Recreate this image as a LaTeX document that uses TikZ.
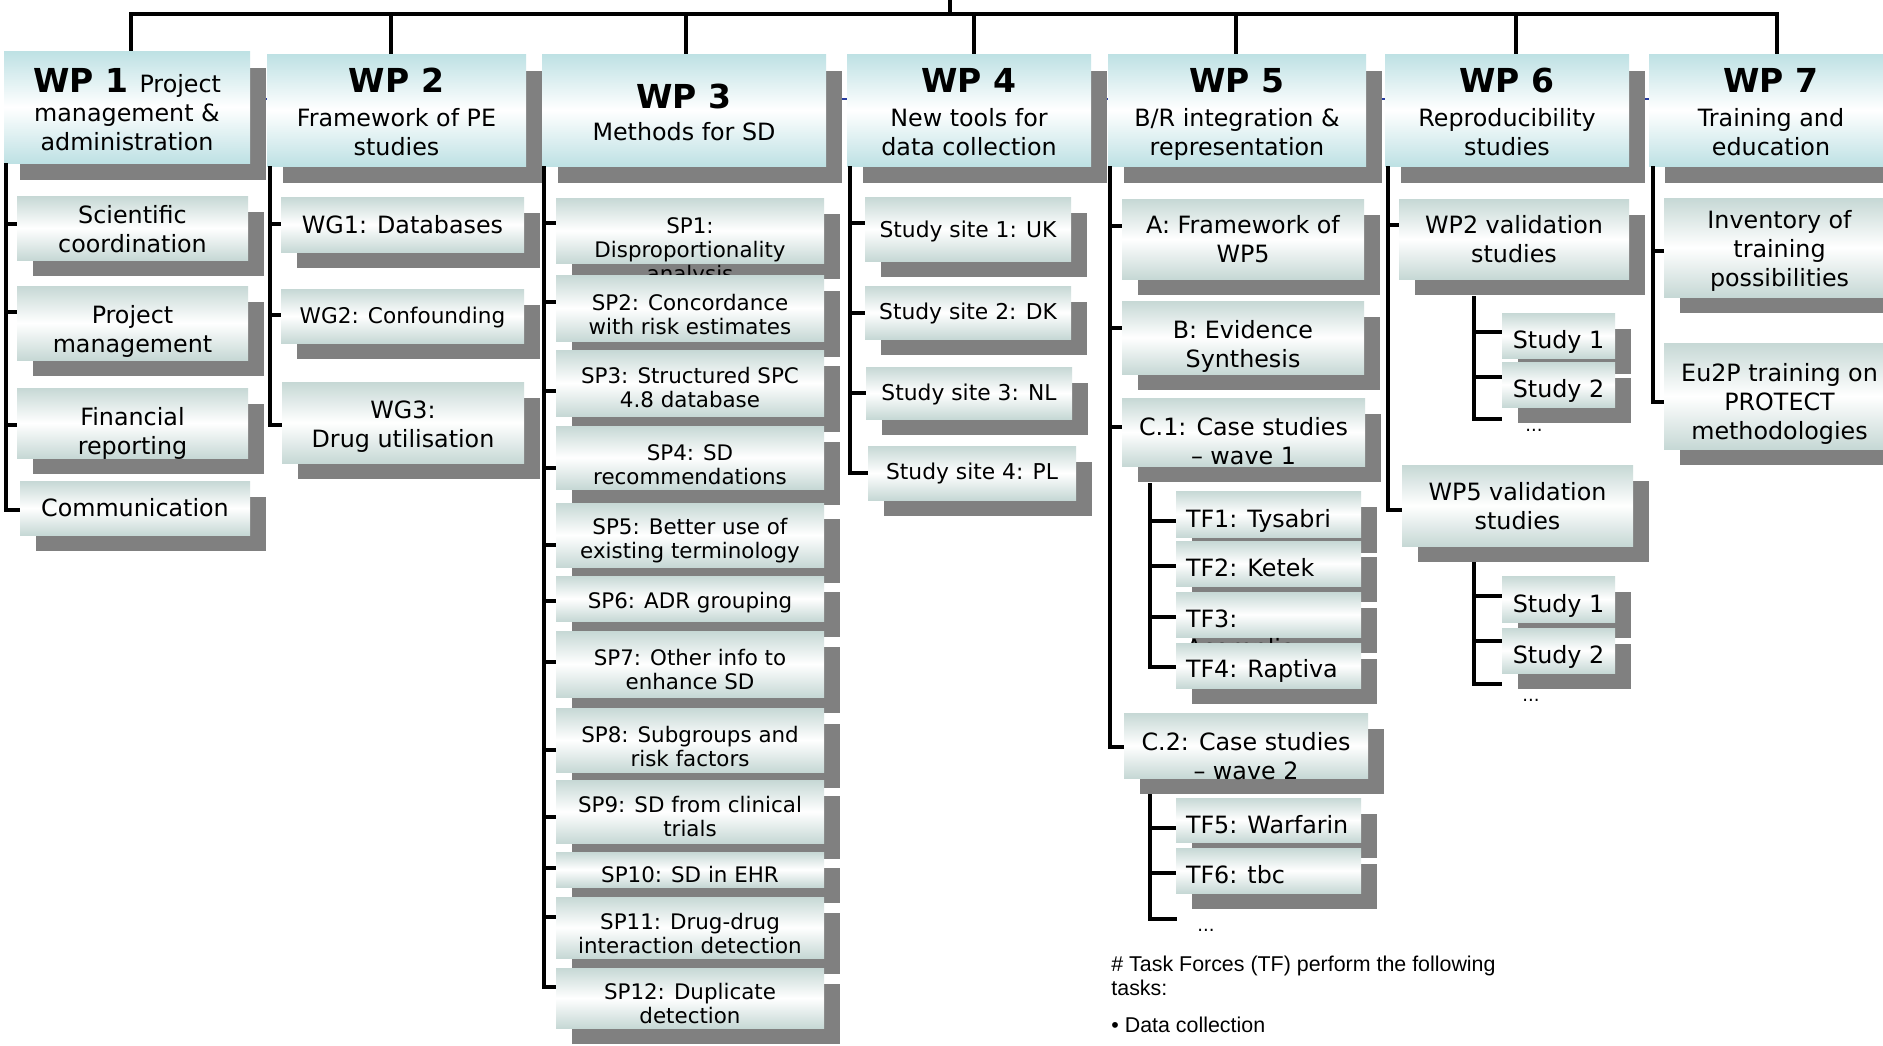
\documentclass[tikz,border=0pt]{standalone}
\usepackage{fontspec}
\setmainfont{DejaVu Sans}
\newfontfamily\notefamily{Liberation Sans}
\usetikzlibrary{shadows}
\definecolor{hdrc}{RGB}{190,225,228}
\definecolor{subc}{RGB}{198,216,213}
\definecolor{shc}{RGB}{128,128,128}
\definecolor{artc}{RGB}{40,60,160}
\newcommand\wpf{\fontsize{16.5}{19}\selectfont\bfseries}
\newcommand\bodyf{\fontsize{11.9}{14.5}\selectfont}
\newcommand\spf{\fontsize{10.7}{12}\selectfont}
\newcommand\sitef{\fontsize{10.9}{12.5}\selectfont}
\newcommand\wgf{\fontsize{10.8}{13}\selectfont}
\newcommand\dotsf{\fontsize{9}{10}\selectfont}
\newcommand\notef{\notefamily\fontsize{10.7}{12}\selectfont}
\newcommand\boxtxt[3][c]{\raisebox{#2}[0pt][0pt]{\begin{tabular}[t]{@{}#1@{}}#3\end{tabular}}}
\newcommand\tftxt[2]{\makebox[82.5pt][l]{\boxtxt[l]{#1}{#2}}}
\begin{document}
\begin{tikzpicture}[x=0.5pt,y=-0.5pt,
  hdr/.style={inner sep=0pt, top color=hdrc, bottom color=hdrc, middle color=white,
    general shadow={fill=shc, shadow xshift=8pt, shadow yshift=-8.5pt}, font=\bodyf},
  sub/.style={inner sep=0pt, top color=subc, bottom color=subc, middle color=white,
    general shadow={fill=shc, shadow xshift=8pt, shadow yshift=-8pt}, font=\bodyf},
  spbox/.style={sub, font=\spf},
  sitebox/.style={sub, font=\sitef},
  bx/.style n args={4}{minimum width={(#3-#1)*0.5pt}, minimum height={(#4-#2)*0.5pt},
    at={(0.5*#1+0.5*#3,0.5*#2+0.5*#4)}},
  conn/.style={line width=1.6pt, black},
  bar/.style={line width=1.8pt, black},
  dotnode/.style={font=\dotsf, anchor=base, inner sep=0pt}]
\path[use as bounding box] (0,0) rectangle (1883,1045);
\clip (0,0) rectangle (1883,1045);
\fill[white] (0,0) rectangle (1883,1045);
% faint blue line behind the headers
\coordinate (art1) at (250,99);
\coordinate (art2) at (1660,99);
\draw[artc, line width=0.8pt] (art1) -- (art2);

% ---------- headers ----------
\node[hdr, bx={4}{51}{250}{163}] (wp1) {\boxtxt{7.5pt}{{\wpf WP 1 }Project\\management \&\\administration}};
\node[hdr, bx={267}{54}{526}{166}] (wp2) {\boxtxt{9pt}{{\wpf WP 2}\\[2.5pt]Framework of PE\\studies}};
\node[hdr, bx={542}{54}{826}{166}] (wp3) {\boxtxt{0.6pt}{{\wpf WP 3}\\[1.5pt]Methods for SD}};
\node[hdr, bx={847}{54}{1091}{166}] (wp4) {\boxtxt{9pt}{{\wpf WP 4}\\[2.5pt]New tools for\\data collection}};
\node[hdr, bx={1108}{54}{1366}{166}] (wp5) {\boxtxt{9pt}{{\wpf WP 5}\\[2.5pt]B/R integration \&\\representation}};
\node[hdr, bx={1385}{54}{1629}{166}] (wp6) {\boxtxt{9pt}{{\wpf WP 6}\\[2.5pt]Reproducibility\\studies}};
\node[hdr, bx={1649}{54}{1893}{166}] (wp7) {\boxtxt{9pt}{{\wpf WP 7}\\[2.5pt]Training and\\education}};

% ---------- WP1 ----------
\node[sub, bx={17}{196}{248}{260}] (sci) {\boxtxt{2.5pt}{Scientific\\coordination}};
\node[sub, bx={17}{286}{248}{360}] (pm) {\boxtxt{0pt}{Project\\management}};
\node[sub, bx={17}{388}{248}{458}] (fin) {\boxtxt{-1pt}{Financial\\reporting}};
\node[sub, bx={20}{481}{250}{535}] (comm) {\boxtxt{-4pt}{Communication}};

% ---------- WP2 ----------
\node[sub, bx={281}{197}{524}{252}] (wg1) {\boxtxt{-4.25pt}{WG1: Databases}};
\node[sub, font=\wgf, bx={281}{289}{524}{343}] (wg2) {\boxtxt{-3.5pt}{WG2: Confounding}};
\node[sub, bx={282}{382}{524}{463}] (wg3) {\boxtxt{2.25pt}{WG3:\\Drug utilisation}};

% ---------- WP3 ----------
\node[spbox, bx={556}{198}{824}{263}] (sp1) {\boxtxt{-1.25pt}{SP1:\\Disproportionality\\analysis}};
\node[spbox, bx={556}{275}{824}{341}] (sp2) {\boxtxt{-1pt}{SP2: Concordance\\with risk estimates}};
\node[spbox, bx={556}{350}{824}{416}] (sp3) {\boxtxt{0pt}{SP3: Structured SPC\\4.8 database}};
\node[spbox, bx={556}{426}{824}{489}] (sp4) {\boxtxt{-1.25pt}{SP4: SD\\recommendations}};
\node[spbox, bx={556}{503}{824}{567}] (sp5) {\boxtxt{0.5pt}{SP5: Better use of\\existing terminology}};
\node[spbox, bx={556}{576}{824}{621}] (sp6) {\boxtxt{-4.75pt}{SP6: ADR grouping}};
\node[spbox, bx={556}{631}{824}{697}] (sp7) {\boxtxt{-0.5pt}{SP7: Other info to\\enhance SD}};
\node[spbox, bx={556}{708}{824}{772}] (sp8) {\boxtxt{-1pt}{SP8: Subgroups and\\risk factors}};
\node[spbox, bx={556}{780}{824}{843}] (sp9) {\boxtxt{-0.25pt}{SP9: SD from clinical\\trials}};
\node[spbox, bx={556}{852}{824}{887}] (sp10) {\boxtxt{-6.25pt}{SP10: SD in EHR}};
\node[spbox, bx={556}{897}{824}{958}] (sp11) {\boxtxt{-0.75pt}{SP11: Drug-drug\\interaction detection}};
\node[spbox, bx={556}{968}{824}{1028}] (sp12) {\boxtxt{-0.5pt}{SP12: Duplicate\\detection}};

% ---------- WP4 ----------
\node[sitebox, bx={865}{197}{1071}{261}] (s1) {\boxtxt{-4pt}{Study site 1: UK}};
\node[sitebox, bx={865}{286}{1071}{339}] (s2) {\boxtxt{-3.25pt}{Study site 2: DK}};
\node[sitebox, bx={866}{367}{1072}{419}] (s3) {\boxtxt{-3.5pt}{Study site 3: NL}};
\node[sitebox, bx={868}{446}{1076}{500}] (s4) {\boxtxt{-3pt}{Study site 4: PL}};

% ---------- WP5 ----------
\node[sub, bx={1122}{199}{1364}{279}] (a) {\boxtxt{3pt}{A: Framework of\\WP5}};
\node[sub, bx={1122}{301}{1364}{374}] (b) {\boxtxt{-0.25pt}{B: Evidence\\Synthesis}};
\node[sub, bx={1122}{398}{1365}{466}] (c1) {\boxtxt{-1.5pt}{C.1: Case studies\\– wave 1}};
\node[sub, bx={1176}{491}{1361}{537}] (tf1) {\tftxt{-6.5pt}{TF1: Tysabri}};
\node[sub, bx={1176}{541}{1361}{586}] (tf2) {\tftxt{-6.5pt}{TF2: Ketek}};
\node[sub, bx={1176}{592}{1361}{637}] (tf3) {\tftxt{-6.25pt}{TF3:\\Acomplia}};
\node[sub, bx={1176}{643}{1361}{688}] (tf4) {\tftxt{-6pt}{TF4: Raptiva}};
\node[sub, bx={1124}{713}{1368}{778}] (c2) {\boxtxt{-2.25pt}{C.2: Case studies\\– wave 2}};
\node[sub, bx={1176}{798}{1361}{842}] (tf5) {\tftxt{-6.5pt}{TF5: Warfarin}};
\node[sub, bx={1176}{848}{1361}{893}] (tf6) {\tftxt{-6.5pt}{TF6: tbc}};

% ---------- WP6 ----------
\node[sub, bx={1399}{199}{1629}{279}] (v2) {\boxtxt{3pt}{WP2 validation\\studies}};
\node[sub, bx={1502}{313}{1615}{358}] (st1) {\boxtxt{-6.25pt}{Study 1}};
\node[sub, bx={1502}{362}{1615}{407}] (st2) {\boxtxt{-6.25pt}{Study 2}};
\node[sub, bx={1402}{465}{1633}{546}] (v5) {\boxtxt{2.75pt}{WP5 validation\\studies}};
\node[sub, bx={1502}{576}{1615}{622}] (st3) {\boxtxt{-6.5pt}{Study 1}};
\node[sub, bx={1502}{628}{1615}{673}] (st4) {\boxtxt{-6.25pt}{Study 2}};

% ---------- WP7 ----------
\node[sub, bx={1664}{198}{1895}{297}] (inv) {\boxtxt{9.75pt}{Inventory of\\training\\possibilities}};
\node[sub, bx={1664}{343}{1895}{449}] (eu) {\boxtxt{7.5pt}{Eu2P training on\\PROTECT\\methodologies}};

% ---------- ellipses and note ----------
\node[dotnode] (dots5) at (1206,931) {...};
\node[dotnode] (dots6a) at (1534,431) {...};
\node[dotnode] (dots6b) at (1531,701) {...};
\node[anchor=west, inner sep=0pt, font=\notef] (note) at (1111,971)
  {\boxtxt[l]{0pt}{\# Task Forces (TF) perform the following\\tasks:\\[6.5pt]• Data collection}};

% ---------- top bar ----------
\coordinate (root) at (950,0);
\coordinate (d1) at (131,14);
\coordinate (d2) at (391,14);
\coordinate (d3) at (686,14);
\coordinate (d4) at (974,14);
\coordinate (d5) at (1236,14);
\coordinate (d6) at (1516,14);
\coordinate (d7) at (1777,14);
\draw[bar] (d1 |- wp1.north) -- (d1) -- (d7) -- (d7 |- wp7.north);
\draw[conn] (root) -- (root |- d1);
\draw[conn] (d2) -- (d2 |- wp2.north);
\draw[conn] (d3) -- (d3 |- wp3.north);
\draw[conn] (d4) -- (d4 |- wp4.north);
\draw[conn] (d5) -- (d5 |- wp5.north);
\draw[conn] (d6) -- (d6 |- wp6.north);

% ---------- WP1 connectors ----------
\coordinate (k1a) at (6,224); \coordinate (k1b) at (6,312);
\coordinate (k1c) at (6,425); \coordinate (k1d) at (6,510);
\draw[conn] (wp1.south -| k1a) -- (k1d) -- (k1d -| comm.west);
\draw[conn] (k1a) -- (k1a -| sci.west);
\draw[conn] (k1b) -- (k1b -| pm.west);
\draw[conn] (k1c) -- (k1c -| fin.west);

% ---------- WP2 connectors ----------
\coordinate (k2a) at (270,224); \coordinate (k2b) at (270,315); \coordinate (k2c) at (270,425);
\draw[conn] (wp2.south -| k2a) -- (k2c) -- (k2c -| wg3.west);
\draw[conn] (k2a) -- (k2a -| wg1.west);
\draw[conn] (k2b) -- (k2b -| wg2.west);

% ---------- WP3 connectors ----------
\coordinate (k3a) at (544,223); \coordinate (k3b) at (544,302); \coordinate (k3c) at (544,391);
\coordinate (k3d) at (544,468); \coordinate (k3e) at (544,545); \coordinate (k3f) at (544,601);
\coordinate (k3g) at (544,662); \coordinate (k3h) at (544,750); \coordinate (k3i) at (544,817);
\coordinate (k3j) at (544,868); \coordinate (k3k) at (544,917); \coordinate (k3l) at (544,987);
\draw[conn] (wp3.south -| k3a) -- (k3l) -- (k3l -| sp12.west);
\draw[conn] (k3a) -- (k3a -| sp1.west);
\draw[conn] (k3b) -- (k3b -| sp2.west);
\draw[conn] (k3c) -- (k3c -| sp3.west);
\draw[conn] (k3d) -- (k3d -| sp4.west);
\draw[conn] (k3e) -- (k3e -| sp5.west);
\draw[conn] (k3f) -- (k3f -| sp6.west);
\draw[conn] (k3g) -- (k3g -| sp7.west);
\draw[conn] (k3h) -- (k3h -| sp8.west);
\draw[conn] (k3i) -- (k3i -| sp9.west);
\draw[conn] (k3j) -- (k3j -| sp10.west);
\draw[conn] (k3k) -- (k3k -| sp11.west);

% ---------- WP4 connectors ----------
\coordinate (k4a) at (850,223); \coordinate (k4b) at (850,313);
\coordinate (k4c) at (850,393); \coordinate (k4d) at (850,473);
\draw[conn] (wp4.south -| k4a) -- (k4d) -- (k4d -| s4.west);
\draw[conn] (k4a) -- (k4a -| s1.west);
\draw[conn] (k4b) -- (k4b -| s2.west);
\draw[conn] (k4c) -- (k4c -| s3.west);

% ---------- WP5 connectors ----------
\coordinate (k5a) at (1110,226); \coordinate (k5b) at (1110,328);
\coordinate (k5c) at (1110,427); \coordinate (k5d) at (1110,747);
\draw[conn] (wp5.south -| k5a) -- (k5d) -- (k5d -| c2.west);
\draw[conn] (k5a) -- (k5a -| a.west);
\draw[conn] (k5b) -- (k5b -| b.west);
\draw[conn] (k5c) -- (k5c -| c1.west);
\coordinate (c1sh) at ([yshift=-8.5pt]c1.south);
\coordinate (t1a) at (1150,521); \coordinate (t1b) at (1150,566);
\coordinate (t1c) at (1150,617); \coordinate (t1d) at (1150,667);
\draw[conn] (c1sh -| t1a) -- (t1d) -- (t1d -| tf4.west);
\draw[conn] (t1a) -- (t1a -| tf1.west);
\draw[conn] (t1b) -- (t1b -| tf2.west);
\draw[conn] (t1c) -- (t1c -| tf3.west);
\coordinate (c2sh) at ([yshift=-8pt]c2.south);
\coordinate (t2a) at (1150,828); \coordinate (t2b) at (1150,873);
\coordinate (t2c) at (1150,919); \coordinate (t2end) at (1177,919);
\draw[conn] (c2sh -| t2a) -- (t2c) -- (t2end);
\draw[conn] (t2a) -- (t2a -| tf5.west);
\draw[conn] (t2b) -- (t2b -| tf6.west);

% ---------- WP6 connectors ----------
\coordinate (k6a) at (1388,225); \coordinate (k6b) at (1388,510);
\draw[conn] (wp6.south -| k6a) -- (k6b) -- (k6b -| v5.west);
\draw[conn] (k6a) -- (k6a -| v2.west);
\coordinate (v2sh) at ([yshift=-8.5pt]v2.south);
\coordinate (u1a) at (1474,332); \coordinate (u1b) at (1474,377);
\coordinate (u1c) at (1474,419); \coordinate (u1end) at (1502,419);
\draw[conn] (v2sh -| u1a) -- (u1c) -- (u1end);
\draw[conn] (u1a) -- (u1a -| st1.west);
\draw[conn] (u1b) -- (u1b -| st2.west);
\coordinate (v5sh) at ([yshift=-8pt]v5.south);
\coordinate (u2a) at (1474,596); \coordinate (u2b) at (1474,641);
\coordinate (u2c) at (1474,684); \coordinate (u2end) at (1502,684);
\draw[conn] (v5sh -| u2a) -- (u2c) -- (u2end);
\draw[conn] (u2a) -- (u2a -| st3.west);
\draw[conn] (u2b) -- (u2b -| st4.west);

% ---------- WP7 connectors ----------
\coordinate (k7a) at (1653,251); \coordinate (k7b) at (1653,402);
\draw[conn] (wp7.south -| k7a) -- (k7b) -- (k7b -| eu.west);
\draw[conn] (k7a) -- (k7a -| inv.west);
\end{tikzpicture}
\end{document}
